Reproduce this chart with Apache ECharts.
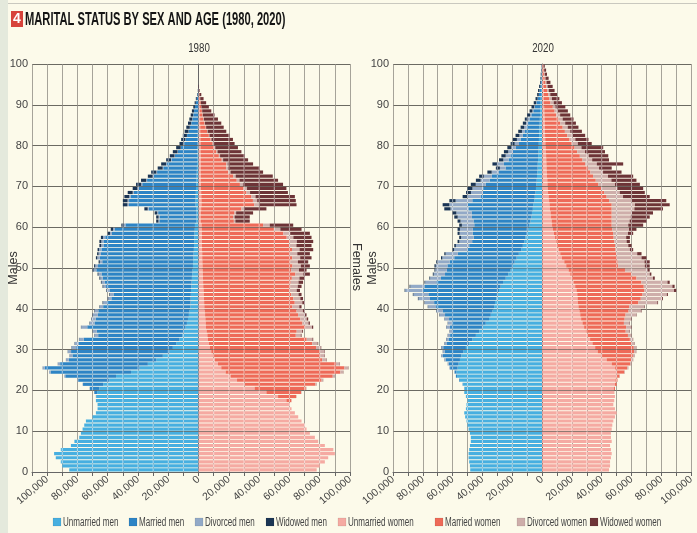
<!DOCTYPE html>
<html>
<head>
<meta charset="utf-8">
<script src="https://cdn.jsdelivr.net/npm/echarts@6/dist/echarts.min.js"></script>
<style>
html,body{margin:0;padding:0;background:#fcfaea;}
#chart{width:697px;height:533px;}
</style>
</head>
<body>
<div id="chart"></div>
<script>
// Single years of age, 0..99 (bottom to top)
const ages = Array.from({length: 100}, (_, i) => String(i));
const ageTickStep = 10;
const countTickStep = 10000;
const countLabelStep = 20000;
const unit = 1000; // values below are in thousands of persons

// ---- 1980 ----
const unmarriedMen1980 = [85.4,90,91,94.3,95.4,91,84.3,82,78.8,77.7, 76.6,75.5,74.4,70,67.8,66.7,66.7,67.8,67.5,67, 65.5,63,59,54.5,44.6,39,33.5,28,23.6,19.2, 17,14.8,12.6,10.8,9.7,8.6,7.7,7,6.4,6, 5.5,5.3,5.2,5.1,5,4.8,4.6,4.4,4.2,4, 3.7,3.6,3.4,3.3,3.1,3,2.9,2.8,2.7,2.5, 2.4,1.4,1.4,1.4,1.6,2,2,1.9,1.8,1.7, 1.5,1.4,1.3,1.2,1.1,1,0.9,0.9,0.8,0.8, 0.7,0.6,0.6,0.5,0.5,0.4,0.3,0.3,0.3,0.2, 0.2,0.1,0.1,0,0,0,0,0,0,0];
const marriedMen1980 = [0,0,0,0,0,0,0,0,0,0, 0,0,0,0,0,0,0,0,0.3,1.9, 6.3,13.3,20.5,33.5,53.1,62.6,57.9,57.7,59.7,65, 63.8,64.5,63.2,55.5,57.5,64.9,61,60.9,60.1,60.2, 57.5,55.2,52.4,51.1,53.8,56.3,57.4,58.9,59.9,63.5, 62.7,60,61.8,61.2,61,59.8,59.9,58.8,54.5,52.8, 45.9,24.5,24.4,25.3,31.3,44,43.9,43,40.9,37.7, 35.7,32.6,28.4,26.2,22.2,20,17,14.7,12.8,10.8, 8.8,7.9,7,6.1,5.2,4.4,3.8,3.2,2.7,2.2, 1.6,1.1,0.6,0.3,0.1,0,0,0,0,0];
const divorcedMen1980 = [0,0,0,0,0,0,0,0,0,0, 0,0,0,0,0,0,0,0,0,0.1, 0.2,0.3,0.5,0.7,1,1.3,1.5,1.8,2,2.2, 3,2.5,3,2.5,2.6,4,3,2.8,3.2,2.5, 2.2,2.5,2,2.4,1.8,1.8,2,1.6,2,1.8, 1.8,1.6,1.7,1.5,1.6,1.5,1.4,1.5,1.3,1.2, 1.1,0.6,0.6,0.6,0.7,1,1,0.9,0.8,0.8, 0.7,0.6,0.5,0.5,0.4,0.4,0.3,0.3,0.3,0.2, 0.2,0.2,0.1,0.1,0.1,0.1,0.1,0.1,0,0, 0,0,0,0,0,0,0,0,0,0];
const widowedMen1980 = [0,0,0,0,0,0,0,0,0,0, 0,0,0,0,0,0,0,0,0,0, 0,0,0,0,0,0.1,0.1,0.1,0.1,0.1, 0.2,0.2,0.2,0.2,0.2,0.2,0.3,0.3,0.3,0.3, 0.3,0.4,0.4,0.4,0.4,0.5,0.5,0.6,0.6,0.7, 0.8,0.8,0.9,1,1,1.2,1.3,1.4,1.5,1.5, 1.6,1.5,1.6,1.7,2.2,3,3.1,3.2,3.3,3.3, 3.4,3.4,3.3,3.4,3.3,3.3,3.2,3.1,3.1,3, 2.9,2.8,2.7,2.5,2.3,2.1,1.9,1.6,1.4,1.1, 0.8,0.6,0.3,0.2,0.1,0,0,0,0,0];
const unmarriedWomen1980 = [78,80,83.4,85.6,90,89,83.4,79,76.8,73.5, 71.3,70.2,68,65.8,63.6,61.4,60.1,58,52.5,44.8, 37,30.5,25.4,21.2,17.9,15,12.8,10.8,9.5,8.4, 7.5,6.8,6.2,5.8,5.3,4.9,4.7,4.5,4.3,4.1, 3.8,3.7,3.6,3.4,3.3,3.1,3,2.9,2.8,2.7, 2.6,2.5,2.4,2.4,2.3,2.2,2.2,2.2,2.1,2.1, 2,1.4,1.4,1.5,1.7,1.9,1.9,1.8,1.7,1.6, 1.5,1.5,1.5,1.4,1.4,1.4,1.4,1.4,1.3,1.3, 1.3,1.2,1.2,1.1,1.1,1,1,0.9,0.9,0.8, 0.7,0.5,0.3,0.1,0,0,0,0,0,0];
const marriedWomen1980 = [0,0,0,0,0,0,0,0,0,0, 0,0,0,0,0,0,0.2,3.3,12,22.9, 33.8,46.7,55.8,67.4,75.7,81.3,77.9,70.8,70.8,71.7, 70.1,68.3,65.2,58.4,59.5,65.5,63.9,62.7,61.4,60.6, 58.2,59.8,59,57.8,56.9,57.4,57.8,58.7,61,58.4, 59.4,58.1,59.5,58,59.4,57.8,57.9,56,53.9,47.7, 40.6,21.9,21.4,22.2,26.6,34.8,34,33.1,29.9,28.2, 25.8,23.7,21.4,18.3,16.8,16.8,13.9,12,10.5,9.1, 8,6.8,5.6,4.5,3.6,2.9,2.2,1.7,1.3,1, 0.7,0.5,0.3,0.1,0,0,0,0,0,0];
const divorcedWomen1980 = [0,0,0,0,0,0,0,0,0,0, 0,0,0,0,0,0,0,0.1,0.2,0.3, 0.5,0.7,1,1.3,1.8,2.5,2.5,2.6,2.8,3, 3,3.5,3.8,3.3,3.6,4.5,4,4.2,4.5,4.2, 4.5,5,4.6,4.8,4.6,5,5.2,5,5.4,5.2, 5.5,5,5.2,4.8,5,4.6,4.8,4.4,4.5,4.2, 4.4,1,1,1.1,1.5,3,2.8,2.7,2.4,2.2, 2,1.8,1.6,1.4,1.2,1,0.9,0.8,0.7,0.6, 0.5,0.5,0.4,0.4,0.3,0.3,0.3,0.2,0.2,0.1, 0.1,0.1,0,0,0,0,0,0,0,0];
const widowedWomen1980 = [0,0,0,0,0,0,0,0,0,0, 0,0,0,0,0,0,0,0,0,0, 0,0.1,0.1,0.1,0.2,0.2,0.2,0.3,0.3,0.3, 0.4,0.4,0.5,0.5,0.6,0.8,0.9,1,1.1,1.3, 1.5,1.7,1.8,2,2.2,2.5,3,3.6,4.3,5, 6,6.8,7.5,8.3,9,10,10.8,12,13,14, 15.5,9.5,10,11.2,15,25,25.5,26,25,26, 26.5,25.5,24.5,21.5,21,16.8,16.5,16.3,15.8,15, 14,14.2,13.3,12.3,11.6,10.8,9.3,7.8,6,4.9, 3.5,2.2,1.2,0.5,0.3,0,0,0,0,0];

// ---- 2020 ----
const unmarriedMen2020 = [48.2,48.4,48.9,49.3,49.3,48.9,48.4,47.8,47.8,48.4, 49.3,50,50.7,51.6,52.2,51.1,50.7,50,51.1,52.2, 52,53,55.1,57,57.4,56.7,56,55.1,54.2,52.9, 51.1,48.9,46.7,44.4,42.2,40,37.8,35.6,34.4,33.3, 32.2,31.6,30.7,29.8,28.9,27.8,26.2,24.4,22.7,21.1, 19.6,18.4,17.1,15.6,14,12.9,12,11.1,10.2,9.3, 8.4,7.8,7.1,6.8,6.2,6,5.3,4.9,4.4,4.1, 3.8,3.6,3.4,3.2,3,2.9,2.7,2.6,2.4,2.3, 2.2,2.1,2,1.9,1.8,1.6,1.5,1.4,1.3,1.2, 1.1,0.9,0.7,0.6,0.4,0.3,0.2,0.2,0.1,0.1];
const marriedMen2020 = [0,0,0,0,0,0,0,0,0,0, 0,0,0,0,0,0,0,0,0,0, 0.2,0.3,0.5,0.8,1.3,5,6.6,9.6,12.3,12.5, 15.2,15.2,16.1,17.3,18.1,21.8,22.8,26.8,30.7,33.3, 38.9,40.8,44.5,46.5,51.1,51.1,44.7,43.5,42.4,42.8, 43.9,43.6,41.8,40.9,36.2,36,34.9,34.8,36.3,37.2, 37.1,38.2,40,40.5,43.2,44,41.5,36.4,35.5,35.4, 34,31.6,30.3,26,21.5,22.7,19.8,18.6,17.2,15.3, 13.3,12.2,10.9,9.6,8.5,7.8,6.9,5.8,4.6,3.7, 2.7,2,1.4,1.1,0.8,0.5,0.4,0.3,0.2,0.1];
const divorcedMen2020 = [0,0,0,0,0,0,0,0,0,0, 0,0,0,0,0,0,0,0,0,0, 0,0,0,0,0.2,0.5,0.6,0.8,1.2,1.2, 1.3,1.3,1.4,1.4,1.7,2.4,2.5,3,3.5,4.2, 5.3,6.2,7.7,10,11.8,9.5,7.5,7.2,7.6,7.7, 7.8,8,8,8.2,8.8,8.9,8.6,8.4,8.8,8.6, 8.3,8.7,9.5,10.2,12,12.2,11.2,8.5,7.8,7.2, 6.7,6,5.4,4.6,3.8,4.4,3.5,3.2,3.1,2.9, 2.9,2.6,2.3,2,1.7,1.3,1.1,0.8,0.6,0.4, 0.2,0.1,0.1,0.1,0,0,0,0,0,0];
const widowedMen2020 = [0,0,0,0,0,0,0,0,0,0, 0,0,0,0,0,0,0,0,0,0, 0,0,0,0,0,0,0.1,0.1,0.1,0.1, 0.2,0.2,0.2,0.2,0.2,0.2,0.2,0.2,0.3,0.3, 0.3,0.3,0.4,0.4,0.4,0.5,0.5,0.5,0.6,0.6, 0.9,1,0.9,0.9,1,1.1,1.2,1.3,1.4,1.6, 1.8,2,2.3,2.5,4.2,4.5,4.2,3.5,3.3,3.3, 3.3,3.2,3.1,2.9,2.7,3.3,2.9,2.9,2.9,2.8, 2.7,2.7,2.6,2.5,2.4,2.2,2.1,2,1.9,1.8, 1.6,1.4,1.1,0.9,0.8,0.5,0.5,0.4,0.3,0.2];
const unmarriedWomen2020 = [44.9,45.6,45.6,46.2,46.7,46.2,45.6,46.7,46.2,46.2, 46.7,47.1,47.8,48.9,50,48.9,47.8,48.4,48.9,48.2, 48.2,48.9,49.2,50,50,49,46.7,43.3,40,37.3, 35.6,33.8,32.2,30.7,29.3,28.2,27.1,26.2,25.6,25.1, 24.4,24,23.8,23.6,23.1,22.2,21.1,20,18.9,17.8, 16.2,14.9,13.3,12.2,11.1,10,9.3,8.7,8,7.3, 6.7,6.4,6,5.7,5.3,5,4.7,4.4,4,3.8, 3.6,3.5,3.3,3.2,3,2.9,2.8,2.7,2.5,2.4, 2.2,2.1,2,1.9,1.9,1.8,1.7,1.6,1.5,1.4, 1.3,1.2,1.1,1,0.9,0.9,0.8,0.7,0.6,0.5];
const marriedWomen2020 = [0,0,0,0,0,0,0,0,0,0, 0,0,0,0,0,0,0,0,0,0.2, 0.7,1.1,1.4,2,5.2,8.1,12.4,16.7,20.9,24.5, 25.9,26.4,26.7,26.9,26.8,28.2,27.8,29.2,30.4,32.9, 34.1,40.6,42.4,43.8,45.5,46,45.5,43.3,41.1,37.8, 34.9,35.8,36.9,37.6,38.2,38.9,39.1,39.3,39.6,39.8, 40,40.3,40.7,41,41.4,41.7,40.2,38.9,37.6,35.8, 34.2,32.5,30.9,29.2,27.7,26,24.3,22.6,21.1,19.4, 17.8,16.3,14.9,13.4,11.9,10.4,9.2,8,6.9,5.8, 4.3,3.6,3,2.4,1.9,1.4,1,0.7,0.5,0.3];
const divorcedWomen2020 = [0,0,0,0,0,0,0,0,0,0, 0,0,0,0,0,0,0,0,0,0, 0,0,0.1,0.2,0.4,0.6,0.8,1,1.2,1.4, 1.6,1.8,2,2.2,2.5,3.3,3.7,4.3,7,8.3, 10,12.7,14.3,16.3,19.9,19.2,17.5,11.1,12.2,15.1, 17.8,18,16.5,14,9.6,8.9,8.3,8.4,10,11.2, 11.1,12,12.8,13.5,15.2,15.6,15,11,10.5,10.8, 11.1,10.5,10,8.5,7.5,7.8,6.5,6,5.2,4.6, 4,3.9,3.7,3.6,3.4,3.3,2.9,2.5,2.1,1.8, 2.2,1.8,1.4,1.1,0.9,0.7,0.5,0.4,0.3,0.2];
const widowedWomen2020 = [0,0,0,0,0,0,0,0,0,0, 0,0,0,0,0,0,0,0,0,0, 0,0,0,0,0,0.1,0.1,0.1,0.1,0.1, 0.2,0.2,0.2,0.2,0.3,0.3,0.3,0.3,0.3,0.4, 0.4,0.5,0.6,0.7,1.5,1.5,1.5,1.2,1.1,1.5, 3.3,3.5,3.3,2.9,2.2,2.2,2.2,2.5,3.5,5, 10,11.3,12.7,14.2,19.2,23.3,23.4,17.9,16.8,17.4, 16.7,16.8,16.9,12.4,8.5,17.7,11.3,13.1,13.4,14.6, 9.3,8.8,8.3,7.8,7.2,7.2,7.3,6.8,6.8,6.6, 5.5,5,4.5,3.9,3.4,2.6,2.1,1.5,1.3,0.8];

const years = ['1980', '2020'];
// Stack order from the centre line outwards; men drawn to the left (negative)
const groups = [
  {name: 'Unmarried men',   sign: -1, color: '#47afe0', data: [unmarriedMen1980, unmarriedMen2020]},
  {name: 'Married men',     sign: -1, color: '#2d84c5', data: [marriedMen1980, marriedMen2020]},
  {name: 'Divorced men',    sign: -1, color: '#92a9c7', data: [divorcedMen1980, divorcedMen2020]},
  {name: 'Widowed men',     sign: -1, color: '#1b3554', data: [widowedMen1980, widowedMen2020]},
  {name: 'Unmarried women', sign: 1,  color: '#f5aaa2', data: [unmarriedWomen1980, unmarriedWomen2020]},
  {name: 'Married women',   sign: 1,  color: '#ee6a58', data: [marriedWomen1980, marriedWomen2020]},
  {name: 'Divorced women',  sign: 1,  color: '#ceaeaa', data: [divorcedWomen1980, divorcedWomen2020]},
  {name: 'Widowed women',   sign: 1,  color: '#6d3437', data: [widowedWomen1980, widowedWomen2020]}
];

const sans = '"Liberation Sans", Arial, sans-serif';

// Layout of the two panels
const grids = [
  {left: 32, top: 64, width: 318, height: 408},
  {left: 393, top: 64, width: 300.5, height: 408}
];
const xRanges = [[-110000, 100000], [-100000, 100000]];
// Legend key positions along the bottom strip
const legendX = [53, 129, 195, 266, 338, 435, 517, 590];
const legendY = 518;

function countLabel(v) {
  if (v % countLabelStep !== 0 || v < -100000) return '';
  if (v === 0) return '0';
  return Math.abs(v).toLocaleString('en-US');
}

const xAxes = xRanges.map((r, g) => ({
  type: 'value', gridIndex: g, min: r[0], max: r[1], interval: countTickStep,
  axisLine: {show: true, onZero: false, lineStyle: {color: '#666', width: 1}},
  axisTick: {show: true, length: 4, lineStyle: {color: '#666'}},
  axisLabel: {
    formatter: countLabel, rotate: 40, margin: 6,
    color: '#444', fontFamily: sans, fontSize: 10.5
  },
  splitLine: {show: true, lineStyle: {color: '#8f8d84', width: 0.8}}
}));

const yAxes = [];
grids.forEach((_, g) => {
  yAxes.push({
    type: 'value', gridIndex: g, min: 0, max: 100, interval: ageTickStep, position: 'left',
    axisLine: {show: true, lineStyle: {color: '#666', width: 1}},
    axisTick: {show: true, length: 4, lineStyle: {color: '#666'}},
    axisLabel: {color: '#444', fontFamily: sans, fontSize: 11, margin: 4},
    splitLine: {show: true, lineStyle: {color: '#6b6a62', width: 1}}
  });
  yAxes.push({
    type: 'category', gridIndex: g, data: ages, position: 'right', show: false,
    boundaryGap: true
  });
});

const series = [];
years.forEach((y, g) => {
  groups.forEach(grp => {
    series.push({
      type: 'bar',
      name: grp.name,
      xAxisIndex: g,
      yAxisIndex: g * 2 + 1,
      stack: 'pyramid' + y,
      barCategoryGap: '22%',
      itemStyle: {color: grp.color},
      silent: true,
      data: grp.data[g].map(v => grp.sign * v * unit)
    });
  });
  // Pale grid rules printed across the bars, limited to each row's extent
  const rows = ages.map((a, i) => {
    let men = 0, women = 0;
    groups.forEach(grp => {
      if (grp.sign < 0) men += grp.data[g][i]; else women += grp.data[g][i];
    });
    return [i, men * unit, women * unit];
  });
  series.push({
    type: 'custom',
    xAxisIndex: g,
    yAxisIndex: g * 2 + 1,
    silent: true,
    z: 3,
    encode: {y: 0, x: 1},
    data: rows,
    renderItem: function (params, api) {
      const idx = api.value(0);
      const men = api.value(1);
      const women = api.value(2);
      const band = api.size([0, 1])[1] * 0.78;
      const cy = api.coord([0, idx])[1];
      const children = [];
      for (let v = -100000; v <= 100000; v += countTickStep) {
        if (v === 0) continue;
        if ((v < 0 && -v < men) || (v > 0 && v < women)) {
          const px = api.coord([v, idx])[0];
          children.push({
            type: 'line',
            shape: {x1: px, y1: cy - band / 2, x2: px, y2: cy + band / 2},
            style: {stroke: 'rgba(255,255,255,0.55)', lineWidth: 1}
          });
        }
      }
      return {type: 'group', children: children};
    }
  });
});

// Legend keys: swatch + condensed label for each category
const legendGraphics = [];
groups.forEach((grp, i) => {
  legendGraphics.push({
    type: 'rect', silent: true,
    shape: {x: legendX[i], y: legendY, width: 8, height: 8},
    style: {fill: grp.color, stroke: 'rgba(0,0,0,0.15)', lineWidth: 0.5}
  });
  legendGraphics.push({
    type: 'text', silent: true,
    x: legendX[i] + 10, y: legendY + 4.5, scaleX: 0.67,
    style: {text: grp.name, fill: '#444', font: '12px ' + sans, align: 'left', verticalAlign: 'middle'}
  });
});

const option = {
  backgroundColor: '#fcfaea',
  animation: false,
  grid: grids,
  xAxis: xAxes,
  yAxis: yAxes,
  series: series,
  graphic: [
    {type: 'rect', shape: {x: 0, y: 0, width: 8, height: 533}, style: {fill: '#e4e9dc'}, silent: true},
    {type: 'rect', shape: {x: 8, y: 3, width: 689, height: 1}, style: {fill: '#c9c8bf'}, silent: true},
    {type: 'rect', shape: {x: 11, y: 11, width: 12, height: 16}, style: {fill: '#d7433b'}, silent: true},
    {type: 'text', x: 17, y: 19.5, silent: true,
     style: {text: '4', fill: '#fff', font: 'bold 14px ' + sans, align: 'center', verticalAlign: 'middle'}},
    {type: 'text', x: 25, y: 20, scaleX: 0.62, silent: true,
     style: {text: 'MARITAL STATUS BY SEX AND AGE (1980, 2020)', fill: '#151515', font: 'bold 18px ' + sans, align: 'left', verticalAlign: 'middle'}},
    {type: 'text', x: 199, y: 48, scaleX: 0.72, silent: true,
     style: {text: '1980', fill: '#333', font: '13.5px ' + sans, align: 'center', verticalAlign: 'middle'}},
    {type: 'text', x: 543, y: 48, scaleX: 0.72, silent: true,
     style: {text: '2020', fill: '#333', font: '13.5px ' + sans, align: 'center', verticalAlign: 'middle'}},
    {type: 'text', x: 14, y: 268, rotation: Math.PI / 2, silent: true,
     style: {text: 'Males', fill: '#333', font: '12.5px ' + sans, align: 'center', verticalAlign: 'middle'}},
    {type: 'text', x: 356, y: 267, rotation: -Math.PI / 2, silent: true,
     style: {text: 'Females', fill: '#333', font: '12.5px ' + sans, align: 'center', verticalAlign: 'middle'}},
    {type: 'text', x: 373, y: 268, rotation: Math.PI / 2, silent: true,
     style: {text: 'Males', fill: '#333', font: '12.5px ' + sans, align: 'center', verticalAlign: 'middle'}}
  ].concat(legendGraphics)
};

const chart = echarts.init(document.getElementById('chart'), null, {renderer: 'canvas'});
chart.setOption(option);
</script>
</body>
</html>
